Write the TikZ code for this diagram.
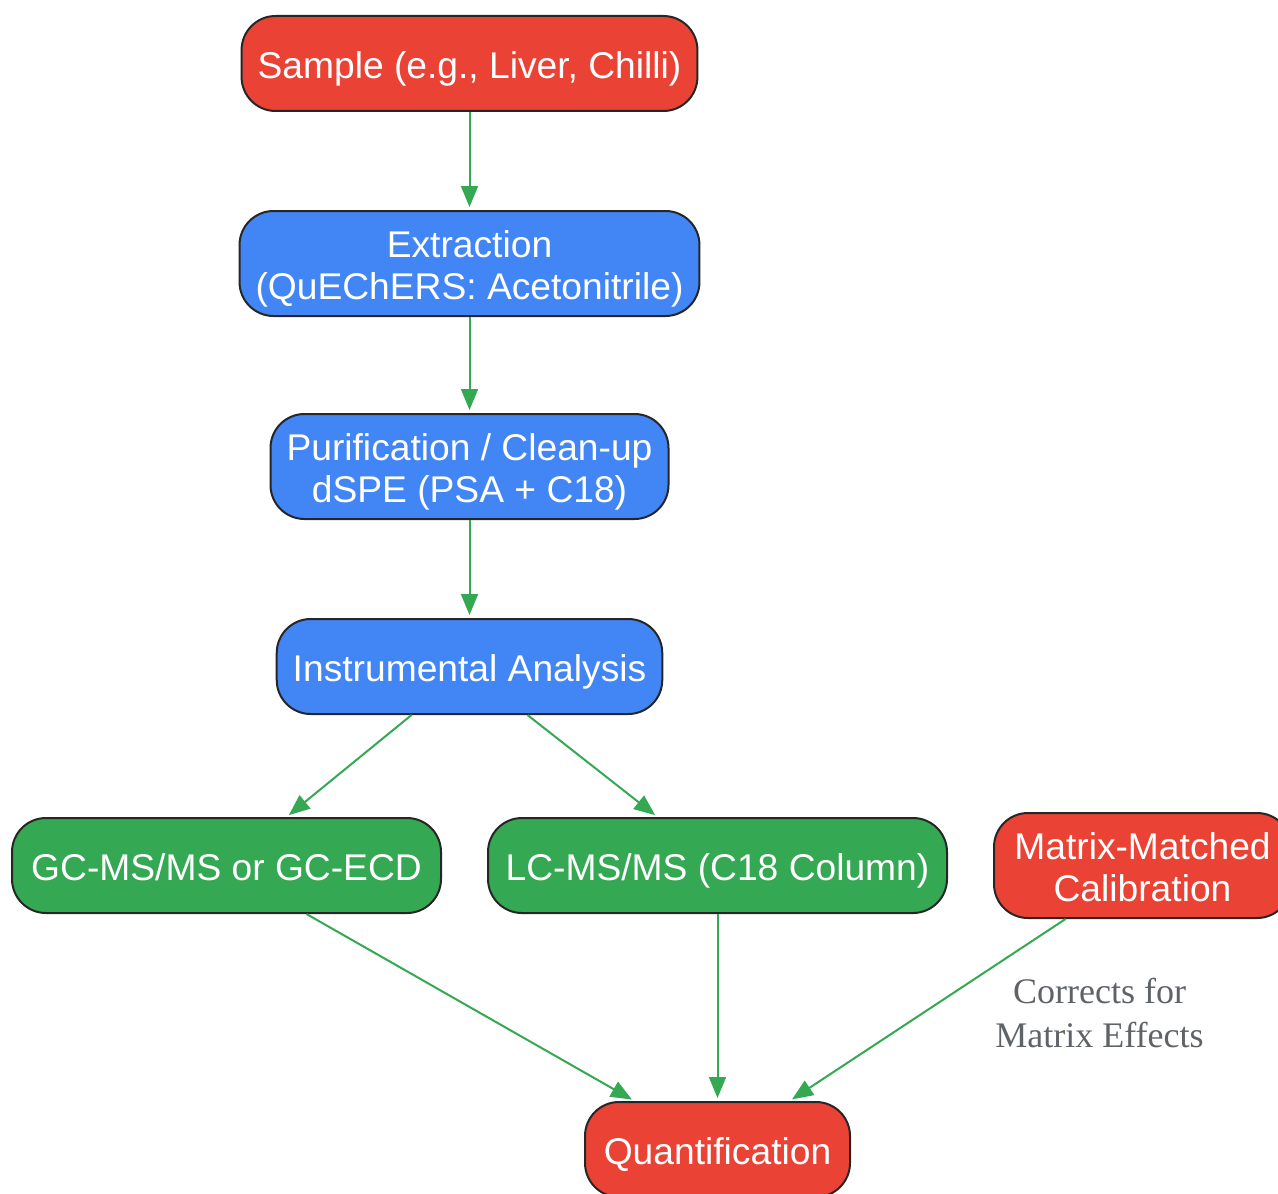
\documentclass[tikz,border=0pt]{standalone}
\usepackage{fontspec}
\setmainfont{Liberation Sans}
\newfontfamily\lblfont{Liberation Serif}
\usetikzlibrary{arrows.meta,positioning,calc}

\definecolor{gred}{HTML}{EA4335}
\definecolor{gblue}{HTML}{4285F4}
\definecolor{ggreen}{HTML}{34A853}
\definecolor{lblgray}{HTML}{5F6368}

\tikzset{
  box/.style={draw=black!85, line width=1pt, rounded corners=17pt, text=white,
    align=center, font=\fontsize{18.6}{21}\selectfont, inner xsep=8pt,
    inner ysep=2pt, minimum height=47.5pt,
    execute at begin node={\rule{0pt}{19pt}},
    execute at end node={\rule[-4pt]{0pt}{4pt}}},
  twoline/.style={inner ysep=1.5pt, minimum height=52.5pt,
    execute at end node={\rule[-4pt]{0pt}{43.5pt}}},
  redbox/.style={box, fill=gred},
  bluebox/.style={box, fill=gblue},
  greenbox/.style={box, fill=ggreen},
  flow/.style={draw=ggreen, line width=1pt, -{Triangle[length=10.5pt,width=8.5pt]}, shorten >=1.5pt},
  edgelbl/.style={font={\lblfont\fontsize{18}{22}\selectfont}, text=lblgray, align=center}
}

\begin{document}
\begin{tikzpicture}[x=0.5pt,y=-0.5pt]
    \useasboundingbox (0,0) rectangle (1278,1193);

    % Preparation steps
    \node[redbox, minimum width=227.5pt] (sample) at (469.5,63.5) {Sample (e.g., Liver, Chilli)};
    \node[bluebox, twoline, minimum width=228.5pt] (extr) at (469.5,263.5) {Extraction\\(QuEChERS: Acetonitrile)};
    \node[bluebox, twoline, minimum width=198.5pt] (purif) at (469.5,466.5) {Purification / Clean-up\\dSPE (PSA + C18)};
    \node[bluebox, minimum width=192.5pt] (instr) at (469.5,666.5) {Instrumental Analysis};

    % Instruments
    \node[greenbox, minimum width=214.5pt] (gc) at (226.5,865.5) {GC-MS/MS or GC-ECD};
    \node[greenbox, minimum width=229.5pt] (lc) at (717.5,865.5) {LC-MS/MS (C18 Column)};
    \node[redbox, twoline, minimum width=148.5pt] (calib) at (1142.5,865.5) {Matrix-Matched\\Calibration};

    % Result
    \node[redbox, minimum width=132.5pt] (quant) at (717.5,1149.5) {Quantification};

    % Flow
    \draw[flow] (sample) -- (extr);
    \draw[flow] (extr) -- (purif);
    \draw[flow] (purif) -- (instr);
    \draw[flow] ($(instr.south)+(-58,0)$) -- ($(gc.north)+(60,0)$);
    \draw[flow] ($(instr.south)+(58,0)$) -- ($(lc.north)+(-60,0)$);
    \draw[flow] ($(gc.south)+(80,0)$) -- ($(quant.north)+(-83,0)$);
    \draw[flow] (lc) -- (quant);
    \draw[flow] ($(calib.south)+(-77,0)$) -- ($(quant.north)+(72,0)$)
        node[edgelbl, pos=0.5, xshift=86pt, yshift=-1.5pt] {Corrects for\\Matrix Effects};
\end{tikzpicture}
\end{document}
